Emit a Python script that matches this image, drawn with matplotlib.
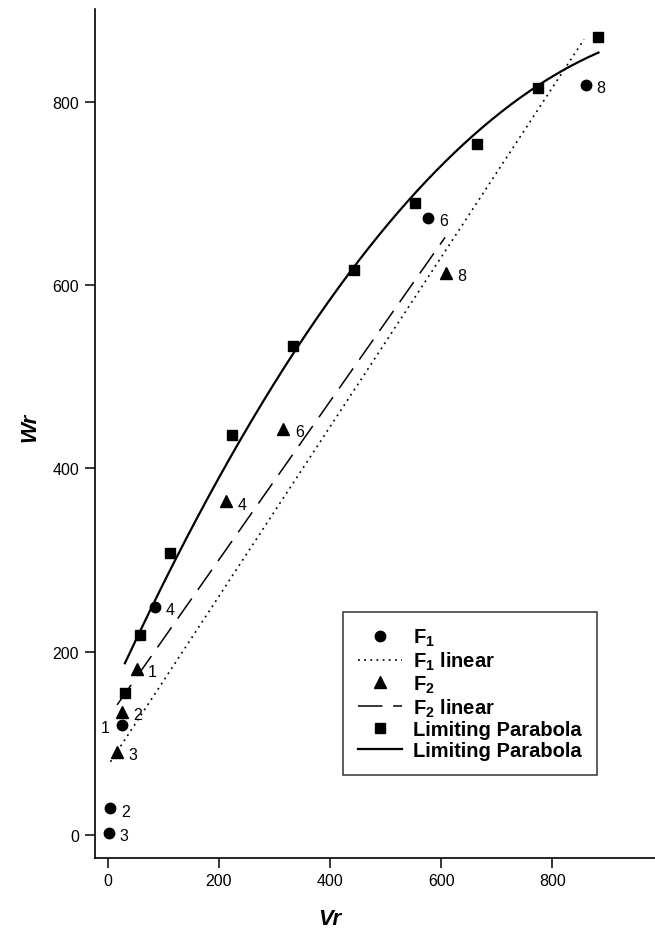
import numpy as np
import matplotlib
matplotlib.use("Agg")
import matplotlib.pyplot as plt
from matplotlib.lines import Line2D

plt.rcParams['font.family'] = ['Liberation Sans', 'DejaVu Sans']
plt.rcParams['mathtext.fontset'] = 'custom'
plt.rcParams['mathtext.rm'] = 'Liberation Sans'
plt.rcParams['mathtext.bf'] = 'Liberation Sans:bold'

# ---- data ----
F1_X = [25, 5, 2, 85, 577, 860]
F1_Y = [120, 29, 2, 249, 673, 818]
F1_LBL = ['1', '2', '3', '4', '6', '8']

F2_X = [52, 25, 17, 213, 316, 609]
F2_Y = [181, 134, 91, 364, 443, 613]
F2_LBL = ['1', '2', '3', '4', '6', '8']

F1_LIN_X = [5, 857]
F1_LIN_Y = [80, 868]
F2_LIN_X = [17, 607]
F2_LIN_Y = [142, 652]

PAR_X = [31, 58, 113, 223, 334, 443, 553, 664, 774, 883]
PAR_Y = [155, 218, 308, 436, 534, 616, 689, 754, 815, 871]

CURVE_X = [31, 88, 124, 232, 346, 443, 549, 774, 883]
CURVE_Y = [183, 265, 301, 425, 541, 616, 697, 815, 856]

X_TICKS = [0, 200, 400, 600, 800]
Y_TICKS = [0, 200, 400, 600, 800]

fig = plt.figure(figsize=(6.55, 9.37), dpi=100)
ax = fig.add_axes([0.1443, 0.0832, 0.8557, 0.906])

# fitted lines
ax.plot(F1_LIN_X, F1_LIN_Y, color='black', lw=1.2, linestyle=(0, (1.1, 2.6)))
ax.plot(F2_LIN_X, F2_LIN_Y, color='black', lw=1.1, linestyle=(0, (16, 7)))
coef = np.polyfit(CURVE_X, CURVE_Y, 2)
cx = np.linspace(min(CURVE_X), max(CURVE_X), 300)
ax.plot(cx, np.polyval(coef, cx), color='black', lw=1.6)

# markers
ax.plot(F1_X, F1_Y, 'o', color='black', ms=7.5, ls='none')
ax.plot(F2_X, F2_Y, '^', color='black', ms=8, ls='none')
ax.plot(PAR_X, PAR_Y, 's', color='black', ms=7.5, ls='none')

for x, y, t in zip(F1_X, F1_Y, F1_LBL):
    dx = -12 if t == '1' else 11
    ax.annotate(t, (x, y), xytext=(dx, -2), textcoords='offset points',
                ha='center', va='center', fontsize=11.5)
for x, y, t in zip(F2_X, F2_Y, F2_LBL):
    ax.annotate(t, (x, y), xytext=(11.5, -2), textcoords='offset points',
                ha='center', va='center', fontsize=11.5)

ax.set_xlim(-23.7, 984.7)
ax.set_ylim(-25.1, 901)
ax.set_xticks(X_TICKS)
ax.set_yticks(Y_TICKS)
ax.tick_params(direction='out', length=7, width=1.1, labelsize=11.5, pad=4)
for s in ['top', 'right']:
    ax.spines[s].set_visible(False)
for s in ['left', 'bottom']:
    ax.spines[s].set_linewidth(1.2)

ax.set_xlabel('Vr', fontsize=16, fontweight='bold', fontstyle='italic')
ax.set_ylabel('Wr', fontsize=16, fontweight='bold', fontstyle='italic')
ax.xaxis.set_label_coords(0.420, -0.0589)
ax.yaxis.set_label_coords(-0.097, 0.508)

handles = [
    Line2D([], [], marker='o', color='black', ls='none', ms=7.5),
    Line2D([], [], color='black', lw=1.2, linestyle=(0, (1.1, 2.6))),
    Line2D([], [], marker='^', color='black', ls='none', ms=8),
    Line2D([], [], color='black', lw=1.1, linestyle=(0, (16, 7))),
    Line2D([], [], marker='s', color='black', ls='none', ms=7.5),
    Line2D([], [], color='black', lw=1.6),
]
labels = [r'$\mathbf{F_1}$', r'$\mathbf{F_1}$ linear', r'$\mathbf{F_2}$',
          r'$\mathbf{F_2}$ linear', 'Limiting Parabola', 'Limiting Parabola']
leg = ax.legend(handles, labels, loc='lower left', bbox_to_anchor=(0.4434, 0.0978),
                borderaxespad=0, fancybox=False, frameon=True, framealpha=1,
                edgecolor='#333333', prop={'size': 14.5, 'weight': 'bold'},
                handlelength=2.19, handletextpad=0.55, labelspacing=0.08,
                borderpad=0.75)
leg.get_frame().set_linewidth(1.1)

fig.savefig('out.png', dpi=100)
